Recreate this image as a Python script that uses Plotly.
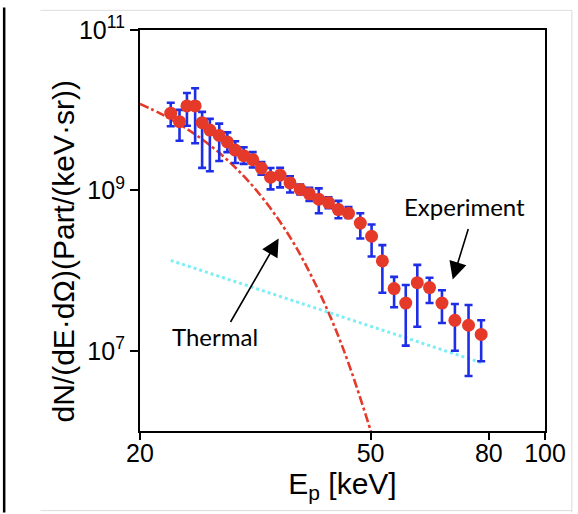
import numpy as np
import plotly.graph_objects as go

# ---- data ----
energy = [22.6, 23.4, 24.1, 24.9, 25.6, 26.4, 27.4, 28.3, 29.2, 30.2, 31.3, 32.4, 33.6, 34.9,
          36.3, 37.8, 39.2, 40.7, 42.3, 44.0, 45.8, 48.0, 50.2, 52.4, 54.9, 57.5, 60.2, 63.2,
          66.4, 69.9, 73.8, 77.6]
counts = [9.2e9, 7.2e9, 1.13e10, 1.13e10, 7.0e9, 5.66e9, 4.85e9, 4.02e9, 3.18e9, 2.71e9,
          2.42e9, 1.90e9, 1.46e9, 1.55e9, 1.24e9, 1.03e9, 9.06e8, 7.76e8, 7.03e8, 5.77e8,
          5.19e8, 3.91e8, 2.68e8, 1.32e8, 5.96e7, 3.94e7, 7.06e7, 6.14e7, 3.94e7, 2.40e7,
          2.08e7, 1.60e7]
counts_upper = [1.24e10, 1.01e10, 1.64e10, 1.88e10, 9.55e9, 7.8e9, 6.8e9, 5.3e9, 4.1e9, 3.46e9,
                3.0e9, 2.26e9, 1.9e9, 1.91e9, 1.5e9, 1.18e9, 1.08e9, 1.06e9, 8.2e8, 7.4e8,
                6.2e8, 5.19e8, 3.76e8, 2.08e8, 8.36e7, 6.62e7, 1.18e8, 8.13e7, 5.68e7, 3.83e7,
                3.72e7, 2.4e7]
counts_lower = [6.3e9, 4.16e9, 6.4e9, 3.87e9, 1.91e9, 1.73e9, 2.33e9, 3.0e9, 2.2e9, 2.14e9,
                1.93e9, 1.57e9, 1.03e9, 1.09e9, 9.4e8, 8.9e8, 7.4e8, 5.2e8, 6.0e8, 4.5e8,
                4.54e8, 2.51e8, 1.5e8, 5.3e7, 3.49e7, 1.16e7, 1.99e7, 3.94e7, 2.22e7, 1.0e7,
                4.84e6, 7.4e6]

thermal_energy = [20, 22, 25, 28, 31, 34, 37, 40, 43, 46, 50, 50.5]
thermal_counts = [1.2e10, 8.6e9, 4.9e9, 2.57e9, 1.23e9, 5.3e8, 2.08e8, 7.2e7, 2.28e7,
                  6.4e6, 1.02e6, 8.0e5]

fit_energy = [22.6, 77.9]
fit_counts = [1.34e8, 7.05e6]

x_tickvals = [20, 50, 80, 100]
x_ticktext = ["20", "50", "80", "100"]
y_tickvals = [1e7, 1e9, 1e11]
y_ticktext = ["10<sup>7</sup>", "10<sup>9</sup>", "10<sup>11</sup>"]

err_plus = [u - c for u, c in zip(counts_upper, counts)]
err_minus = [c - l for c, l in zip(counts, counts_lower)]

RED = "#E5392A"
BLUE = "#1E2EE6"
CYAN = "#7DEEF6"

fig = go.Figure()
fig.add_trace(go.Scatter(x=thermal_energy, y=thermal_counts, mode="lines",
                         line=dict(color=RED, width=2.6, dash="dashdot", shape="spline"),
                         hoverinfo="skip", showlegend=False))
fig.add_trace(go.Scatter(x=fit_energy, y=fit_counts, mode="lines",
                         line=dict(color=CYAN, width=3, dash="dot"),
                         hoverinfo="skip", showlegend=False))
fig.add_trace(go.Scatter(x=energy, y=counts, mode="markers",
                         marker=dict(color=RED, size=13, line=dict(width=0)),
                         error_y=dict(type="data", symmetric=False, array=err_plus,
                                      arrayminus=err_minus, color=BLUE, thickness=2.6, width=4),
                         showlegend=False))

W, H = 578, 514
L, R, T, B = 140, 31, 23, 83
pw, ph = W - L - R, H - T - B


def px(x):  # page pixel -> paper
    return (x - L) / pw


def py(y):
    return (H - B - y) / ph


font_main = "Liberation Sans, Arial, sans-serif"
font_note = "Lato, sans-serif"

fig.update_layout(
    width=W, height=H,
    margin=dict(l=L, r=R, t=T, b=B),
    paper_bgcolor="white", plot_bgcolor="white",
    font=dict(family=font_main, color="black"),
    xaxis=dict(type="log", range=[np.log10(20), 2], tickvals=x_tickvals, ticktext=x_ticktext,
               ticks="outside", ticklen=7, tickwidth=2, tickcolor="black",
               showline=True, linewidth=2.2, linecolor="black", mirror=True,
               showgrid=False, zeroline=False, tickfont=dict(size=25, family=font_main),
               ticklabelstandoff=-8, ticklabeloverflow="allow",
               title=dict(text="E<sub>p</sub> [keV]", font=dict(size=30, family=font_main),
                          standoff=4)),
    yaxis=dict(type="log", range=[5.9995, 11.0005], tickvals=y_tickvals, ticktext=y_ticktext,
               ticks="outside", ticklen=8, tickwidth=2, tickcolor="black",
               showline=True, linewidth=2.2, linecolor="black", mirror=True,
               ticklabeloverflow="allow",
               showgrid=False, zeroline=False, tickfont=dict(size=25, family=font_main)),
    annotations=[
        dict(text="dN/(dE·dΩ)(Part/(keV·sr))", xref="paper", yref="paper",
             x=px(63), y=py(248), xanchor="center", yanchor="middle", textangle=-90,
             showarrow=False, font=dict(size=30, family=font_main)),
        dict(text="Thermal", xref="paper", yref="paper", x=px(215), y=py(335),
             xanchor="center", yanchor="middle", showarrow=False,
             font=dict(size=24, family=font_note)),
        dict(text="Experiment", xref="paper", yref="paper", x=px(466), y=py(203),
             xanchor="center", yanchor="middle", showarrow=False,
             font=dict(size=24, family=font_note)),
        dict(text="", x=np.log10(34.7), y=8.40, xref="x", yref="y",
             showarrow=True, ax=-49, ay=85, arrowhead=2, arrowsize=2.2, arrowwidth=1.6,
             arrowcolor="black", standoff=0),
        dict(text="", x=np.log10(69.3), y=7.889, xref="x", yref="y",
             showarrow=True, ax=16, ay=-52, arrowhead=2, arrowsize=2.2, arrowwidth=1.6,
             arrowcolor="black", standoff=0),
    ],
    shapes=[
        dict(type="line", xref="paper", yref="paper", x0=px(3.5), x1=px(3.5), y0=py(514), y1=py(0),
             line=dict(color="black", width=2.5)),
        dict(type="line", xref="paper", yref="paper", x0=px(40), x1=px(574), y0=py(3), y1=py(3),
             line=dict(color="#DCDCDC", width=1)),
        dict(type="line", xref="paper", yref="paper", x0=px(574), x1=px(574), y0=py(3), y1=py(514),
             line=dict(color="#DCDCDC", width=1)),
        dict(type="line", xref="paper", yref="paper", x0=px(40), x1=px(574), y0=py(512), y1=py(512),
             line=dict(color="#DCDCDC", width=1)),
    ],
)

# remove the browser's default body margin so the 578x514 figure fills the window exactly
fig.write_html("out.html", config={"displayModeBar": False},
               post_script="document.body.style.margin='0px';")
